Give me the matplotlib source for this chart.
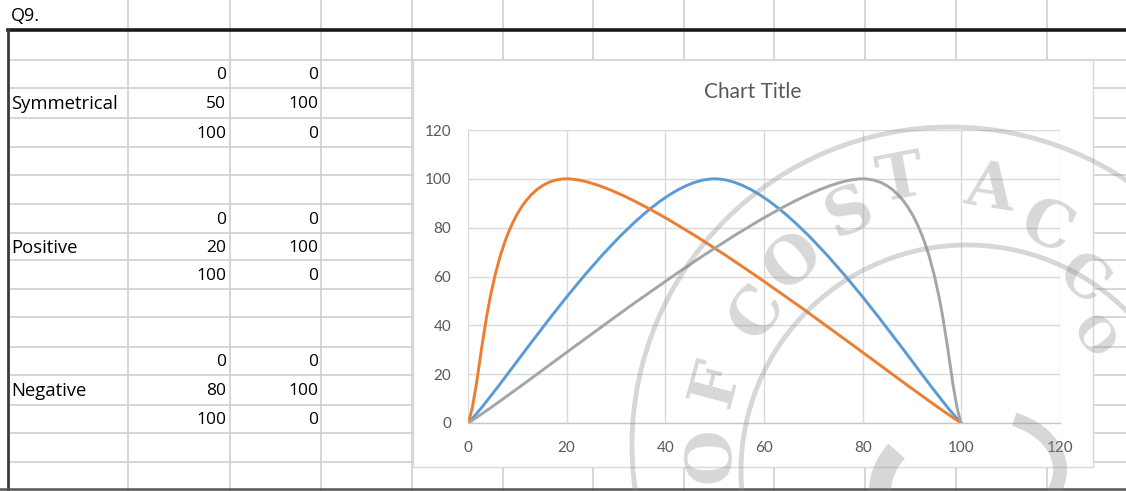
import numpy as np
import matplotlib.pyplot as plt
from matplotlib.path import Path
from matplotlib.patches import PathPatch, Rectangle, Circle, Arc

plt.rcParams['font.family'] = ['Lato', 'DejaVu Sans']

# worksheet / chart values
sheet_heading = 'Q9.'
groups = ['Symmetrical', 'Positive', 'Negative']
x_vals = [[0, 50, 100], [0, 20, 100], [0, 80, 100]]
y_vals = [[0, 100, 0], [0, 100, 0], [0, 100, 0]]
series_colors = ['#5B9BD5', '#ED7D31', '#A5A5A5']
x_ticks = [0, 20, 40, 60, 80, 100, 120]
y_ticks = [0, 20, 40, 60, 80, 100, 120]
chart_title = 'Chart Title'

W, H = 1126, 491
fig = plt.figure(figsize=(W / 100, H / 100), dpi=100)
fig.patch.set_facecolor('white')

# ---- spreadsheet background (pixel coords) ----
sheet = fig.add_axes([0, 0, 1, 1])
sheet.set_xlim(0, W)
sheet.set_ylim(H, 0)
sheet.axis('off')

col_edges = [128, 230, 321, 412, 503, 593, 684, 774, 865, 956, 1047]
row_edges = [30, 60, 88, 118, 147, 175, 204, 233, 260, 289, 317, 347,
             375, 405, 433, 462, 488]
grid_c = '#cfcfcf'
cell_font = ['Open Sans', 'DejaVu Sans']

for x in col_edges:
    sheet.plot([x, x], [0, H], color=grid_c, lw=1.2, zorder=1)
for y in row_edges[1:-1]:
    sheet.plot([8, W], [y, y], color=grid_c, lw=1.2, zorder=1)
# heavy borders
sheet.plot([8, W], [30, 30], color='#1a1a1a', lw=2.6, zorder=2)
sheet.plot([8, 8], [30, H], color='#3a3a3a', lw=2.0, zorder=2)
sheet.plot([0, W], [489, 489], color='#555555', lw=1.8, zorder=2)

sheet.text(11, 16, sheet_heading, fontsize=13, va='center', ha='left',
           color='#000000', family=cell_font, zorder=3)

first_rows = [1, 6, 11]
for name, xs, ys, r0 in zip(groups, x_vals, y_vals, first_rows):
    for k in range(3):
        ymid = (row_edges[r0 + k] + row_edges[r0 + k + 1]) / 2 + 1
        sheet.text(226, ymid, str(xs[k]), fontsize=12.5, ha='right',
                   va='center', color='#000000', family=cell_font, zorder=3)
        sheet.text(318, ymid, str(ys[k]), fontsize=12.5, ha='right',
                   va='center', color='#000000', family=cell_font, zorder=3)
    ymid = (row_edges[r0 + 1] + row_edges[r0 + 2]) / 2 + 1
    sheet.text(11, ymid, name, fontsize=13.3, ha='left', va='center',
               color='#000000', family=cell_font, zorder=3)

# chart area box
sheet.add_patch(Rectangle((413, 60), 680, 407, facecolor='white',
                          edgecolor='#d9d9d9', lw=1, zorder=4))
sheet.text(753, 92, chart_title, fontsize=15, ha='center', va='center',
           color='#595959', zorder=5)


# ---- scatter with smoothed lines ----
def smooth_path(xs, ys):
    pts = np.column_stack([xs, ys]).astype(float)
    n = len(pts)
    verts = [pts[0]]
    codes = [Path.MOVETO]
    for i in range(n - 1):
        p_prev = pts[max(i - 1, 0)]
        p_next = pts[min(i + 2, n - 1)]
        c1 = pts[i] + (pts[i + 1] - p_prev) / 6
        c2 = pts[i + 1] - (p_next - pts[i]) / 6
        verts += [c1, c2, pts[i + 1]]
        codes += [Path.CURVE4] * 3
    return Path(verts, codes)


x0, x1 = 468, 1060
y0, y1 = 423, 130
ax = fig.add_axes([x0 / W, (H - y0) / H, (x1 - x0) / W, (y0 - y1) / H])
ax.set_facecolor('none')
ax.set_xlim(0, 120)
ax.set_ylim(0, 120)
ax.set_xticks(x_ticks)
ax.set_yticks(y_ticks)
ax.grid(True, color='#d9d9d9', lw=1)
ax.set_axisbelow(True)
for s in ['top', 'right', 'left']:
    ax.spines[s].set_visible(False)
ax.spines['bottom'].set_color('#c8c8c8')
ax.spines['bottom'].set_linewidth(1)
ax.tick_params(length=0, labelsize=11, labelcolor='#595959')
ax.tick_params(axis='y', pad=12)
ax.tick_params(axis='x', pad=13)

for xs, ys, c in zip(x_vals, y_vals, series_colors):
    ax.add_patch(PathPatch(smooth_path(xs, ys), fill=False, edgecolor=c,
                           lw=2.1, capstyle='round', zorder=3))

# ---- faint stamp over the sheet ----
wm = fig.add_axes([0, 0, 1, 1])
wm.set_xlim(0, W)
wm.set_ylim(H, 0)
wm.axis('off')
wm.set_facecolor('none')
wm_c = '#8c8c8c'
wm_a = 0.34
wm.add_patch(Circle((950, 445), 318, fill=False, edgecolor=wm_c, lw=3.5, alpha=wm_a))
wm.add_patch(Circle((967, 471), 226, fill=False, edgecolor=wm_c, lw=3.5, alpha=wm_a))
wm.add_patch(Arc((955, 492), 150, 130, theta1=95, theta2=215, edgecolor=wm_c,
                 lw=16, alpha=wm_a))
wm.add_patch(Arc((985, 470), 150, 110, theta1=300, theta2=20, edgecolor=wm_c,
                 lw=10, alpha=wm_a))
cx, cy = 950, 445
letters = [('O', 712, 455, 46), ('F', 717, 383, 46), ('C', 757, 313, 46),
           ('O', 793, 262, 46), ('S', 850, 213, 46), ('T', 900, 180, 46),
           ('A', 990, 190, 46), ('C', 1046, 228, 46), ('C', 1082, 280, 42),
           ('O', 1092, 338, 34)]
for ch, lx, ly, fs in letters:
    ang = np.degrees(np.arctan2(cy - ly, lx - cx))
    wm.text(lx, ly, ch, fontsize=fs, ha='center', va='center', rotation=ang - 90,
            color=wm_c, alpha=wm_a, family='DejaVu Serif', fontweight='bold',
            rotation_mode='anchor')

fig.savefig('out.png', dpi=100)
